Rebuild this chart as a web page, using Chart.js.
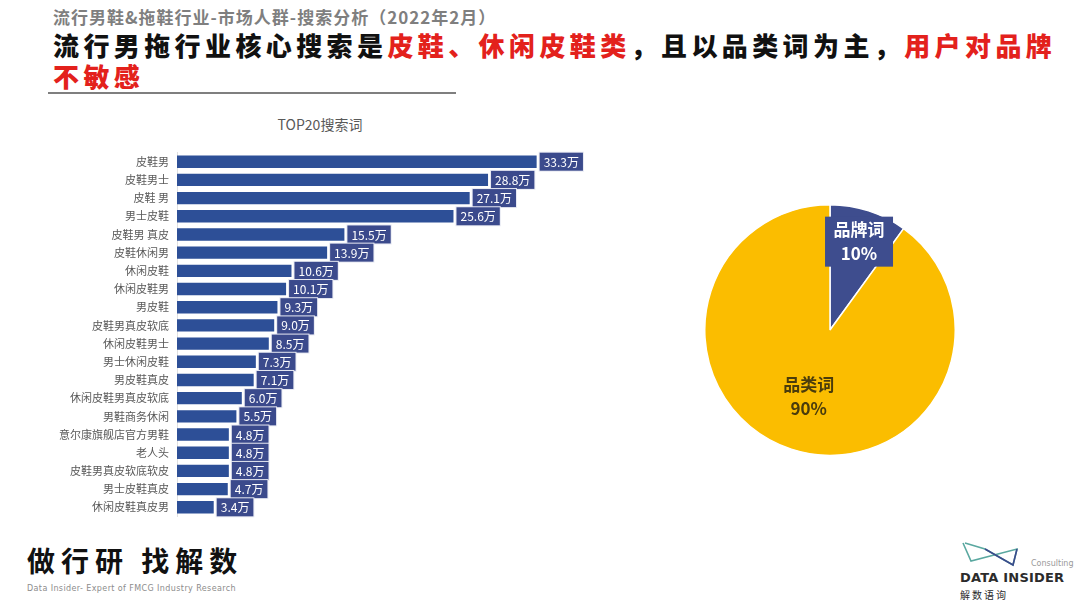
<!DOCTYPE html>
<html>
<head>
<meta charset="utf-8">
<script src="https://cdn.jsdelivr.net/npm/chart.js@4"></script>
<style>
    body { margin: 0; width: 1080px; height: 608px; background: #fff; position: relative; overflow: hidden; font-family: 'Noto Sans CJK SC', 'Noto Sans', sans-serif; }
    .abs { position: absolute; }
    #sub { left: 53px; top: 4px; font-size: 17px; font-weight: 700; color: #7f7f7f; letter-spacing: 1px; white-space: nowrap; }
    #title { left: 53px; top: 29px; font-size: 26px; font-weight: 900; color: #111; letter-spacing: 4.4px; line-height: 31px; white-space: nowrap; }
    #title .red { color: #e3211c; }
    #rule { left: 48px; top: 92px; width: 408px; height: 2px; background: #7f7f7f; }
    #barTitle { left: 220px; top: 114px; width: 200px; text-align: center; font-size: 14px; color: #595959; }
    #barBox { left: 0px; top: 146px; width: 609px; height: 377px; }
    #pieBox { left: 700px; top: 200px; width: 260px; height: 260px; }
    #slogan { left: 27px; top: 540px; font-size: 28px; font-weight: 700; color: #111; letter-spacing: 6px; white-space: nowrap; }
    #tag { left: 27px; top: 584px; font-size: 8px; color: #8c8c8c; letter-spacing: 0.4px; font-family: 'DejaVu Sans', sans-serif; white-space: nowrap; }
    #logo { left: 955px; top: 535px; width: 120px; height: 70px; }
</style>
</head>
<body>
<div id="sub" class="abs">流行男鞋&amp;拖鞋行业-市场人群-搜索分析（2022年2月）</div>
<div id="title" class="abs">流行男拖行业核心搜索是<span class="red">皮鞋、休闲皮鞋类</span>，且以品类词为主，<span class="red">用户对品牌</span><br><span class="red">不敏感</span></div>
<div id="rule" class="abs"></div>
<div id="barTitle" class="abs">TOP20搜索词</div>
<div id="barBox" class="abs"><canvas id="barChart"></canvas></div>
<div id="pieBox" class="abs"><canvas id="pieChart"></canvas></div>
<div id="slogan" class="abs">做行研 找解数</div>
<div id="tag" class="abs">Data Insider- Expert of FMCG Industry Research</div>
<div id="logo" class="abs">
    <svg width="120" height="70" viewBox="0 0 120 70">
        <polyline points="8,8 16,26 62,14 58,30 30,14 10,8" fill="none" stroke="#5aa8a0" stroke-width="1.6"/>
        <polyline points="30,14 58,30 62,14" fill="none" stroke="#3b4a8c" stroke-width="1.6"/>
        <text x="76" y="31" font-size="8" fill="#9a9a9a" font-family="DejaVu Sans">Consulting</text>
        <text x="5" y="47" font-size="13" font-weight="700" fill="#2b2b2b" font-family="DejaVu Sans" letter-spacing="0.2">DATA INSIDER</text>
        <text x="5" y="64" font-size="10" fill="#2b2b2b" font-family="Noto Sans CJK SC" letter-spacing="2">解数语询</text>
    </svg>
</div>
<script>
// Data
const keywords = ['皮鞋男', '皮鞋男士', '皮鞋 男', '男士皮鞋', '皮鞋男 真皮', '皮鞋休闲男', '休闲皮鞋', '休闲皮鞋男', '男皮鞋', '皮鞋男真皮软底',
    '休闲皮鞋男士', '男士休闲皮鞋', '男皮鞋真皮', '休闲皮鞋男真皮软底', '男鞋商务休闲', '意尔康旗舰店官方男鞋', '老人头', '皮鞋男真皮软底软皮', '男士皮鞋真皮', '休闲皮鞋真皮男'];
const searchVolume = [33.3, 28.8, 27.1, 25.6, 15.5, 13.9, 10.6, 10.1, 9.3, 9.0, 8.5, 7.3, 7.1, 6.0, 5.5, 4.8, 4.8, 4.8, 4.7, 3.4];
const wordTypes = ['品牌词', '品类词'];
const wordShares = [10, 90];

Chart.defaults.font.family = "'Noto Sans CJK SC', sans-serif";
Chart.defaults.animation = false;

// Boxed value labels at the end of each bar
const barLabels = {
    id: 'barLabels',
    afterDatasetsDraw(chart) {
        const ctx = chart.ctx;
        const meta = chart.getDatasetMeta(0);
        ctx.save();
        ctx.font = "12px 'Noto Sans CJK SC'";
        ctx.textBaseline = 'middle';
        meta.data.forEach((bar, i) => {
            const text = searchVolume[i].toFixed(1) + '万';
            const w = ctx.measureText(text).width + 8;
            const x = bar.x + 3;
            ctx.fillStyle = '#e8eaf3';
            ctx.fillRect(x - 1, bar.y - 10, w + 2, 20);
            ctx.fillStyle = '#3b4a8c';
            ctx.fillRect(x, bar.y - 9, w, 18);
            ctx.fillStyle = '#fff';
            ctx.fillText(text, x + 4, bar.y + 0.5);
        });
        ctx.restore();
    }
};

new Chart(document.getElementById('barChart'), {
    type: 'bar',
    data: {
        labels: keywords,
        datasets: [{
            data: searchVolume,
            backgroundColor: '#2d4f97',
            barPercentage: 0.68,
            categoryPercentage: 1
        }]
    },
    options: {
        indexAxis: 'y',
        responsive: true,
        maintainAspectRatio: false,
        plugins: { legend: { display: false }, tooltip: { enabled: false } },
        scales: {
            x: { display: false, min: 0, max: 40 },
            y: {
                afterFit(scale) { scale.width = 177; },
                grid: { display: false },
                border: { display: true, color: '#e0e0e0' },
                ticks: { color: '#595959', font: { size: 11 }, padding: 0 }
            }
        }
    },
    plugins: [barLabels]
});

// Labels inside the pie
const pieLabels = {
    id: 'pieLabels',
    afterDatasetsDraw(chart) {
        const ctx = chart.ctx;
        const meta = chart.getDatasetMeta(0);
        const fracs = [0.75, 0.55];
        ctx.save();
        ctx.textAlign = 'center';
        ctx.textBaseline = 'middle';
        ctx.font = "bold 17px 'Noto Sans CJK SC'";
        meta.data.forEach((arc, i) => {
            const mid = (arc.startAngle + arc.endAngle) / 2;
            const r = arc.outerRadius * fracs[i];
            const cx = arc.x + Math.cos(mid) * r;
            const cy = arc.y + Math.sin(mid) * r;
            if (i === 0) {
                ctx.fillStyle = '#3e4d8e';
                ctx.fillRect(cx - 34, cy - 24, 68, 50);
                ctx.fillStyle = '#fff';
            } else {
                ctx.fillStyle = '#4a3c0c';
            }
            ctx.fillText(wordTypes[i], cx, cy - 11);
            ctx.fillText(wordShares[i] + '%', cx, cy + 13);
        });
        ctx.restore();
    }
};

new Chart(document.getElementById('pieChart'), {
    type: 'pie',
    data: {
        labels: wordTypes,
        datasets: [{
            data: wordShares,
            backgroundColor: ['#3e4d8e', '#fbbd00'],
            borderColor: '#fff',
            borderWidth: 1.5
        }]
    },
    options: {
        responsive: true,
        maintainAspectRatio: false,
        layout: { padding: 4 },
        plugins: { legend: { display: false }, tooltip: { enabled: false } }
    },
    plugins: [pieLabels]
});
</script>
</body>
</html>
